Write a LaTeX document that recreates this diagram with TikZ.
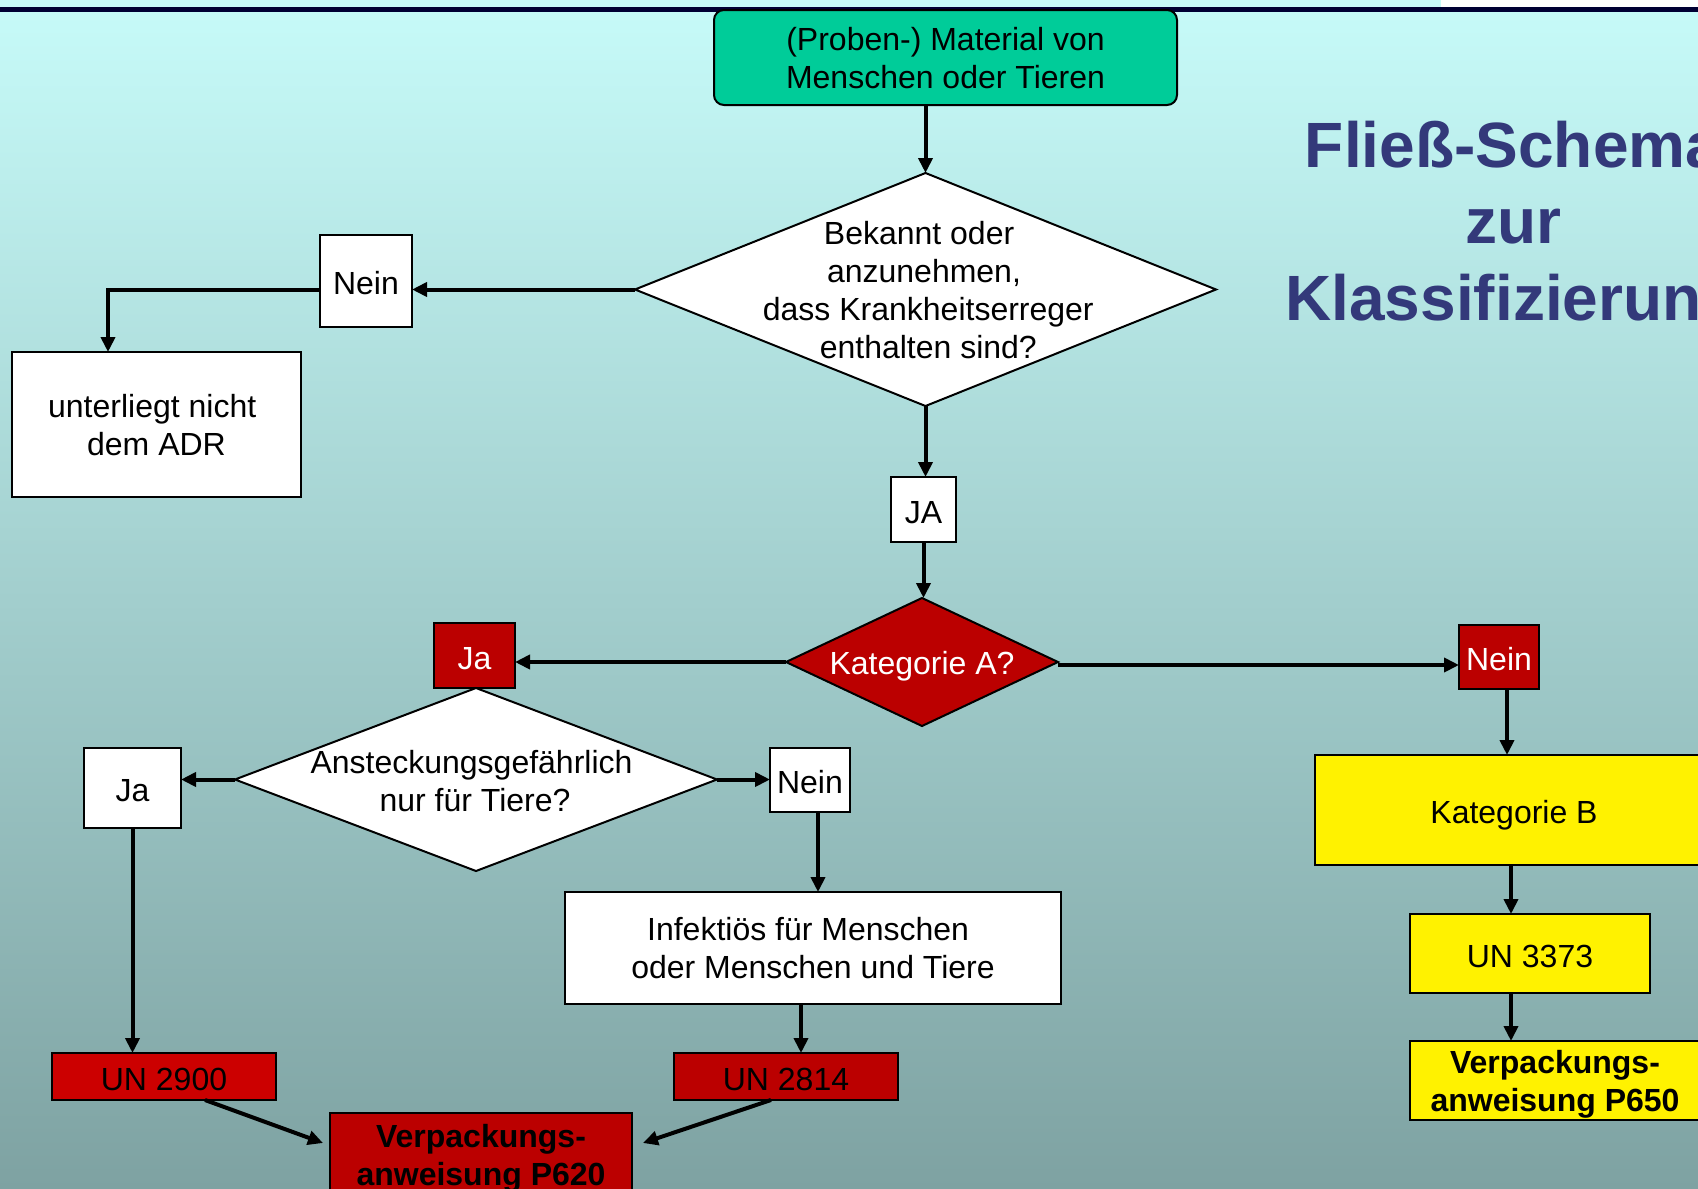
\documentclass[tikz,border=0pt]{standalone}
\usepackage{fontspec}
\setmainfont{Liberation Sans}
\usetikzlibrary{arrows.meta,calc,shapes.geometric}
\definecolor{bgtop}{RGB}{198,250,248}
\definecolor{bgbot}{RGB}{126,162,162}
\definecolor{navyband}{RGB}{0,0,51}
\definecolor{titleblue}{RGB}{51,57,122}
\definecolor{mint}{RGB}{0,204,153}
\definecolor{darkred}{RGB}{187,0,0}
\definecolor{brightred}{RGB}{204,0,0}
\begin{document}
\begin{tikzpicture}[x=0.5pt,y=-0.5pt,
  txt/.style={font=\fontsize{16pt}{19pt}\selectfont, align=center},
  btxt/.style={font=\fontsize{16pt}{19pt}\selectfont\bfseries, align=center},
  box/.style={draw=black, line width=1pt, inner sep=0pt, outer sep=0pt, txt, text depth=0pt},
  oneline/.style={text height=13.5pt},
  wbox/.style={box, fill=white},
  rbox/.style={box, fill=darkred, text=white},
  ybox/.style={box, fill=yellow},
  dia/.style={diamond, draw=black, line width=1pt, inner sep=0pt, outer sep=0pt},
  ttl/.style={font=\fontsize{32pt}{38pt}\selectfont\bfseries, text=titleblue, anchor=base, inner sep=0pt},
  arr/.style={line width=2pt, -{Triangle[length=7.5pt,width=7pt]}},
]
\useasboundingbox (0,0) rectangle (1698,1189);
\clip (0,0) rectangle (1698,1189);
% background
\fill[bgtop] (0,0) rectangle (1441,7);
\fill[white] (1441,0) rectangle (1698,7);
\fill[navyband] (0,7) rectangle (1698,12.5);
\shade[top color=bgtop, bottom color=bgbot] (0,12.5) rectangle (1698,1189);

% title
\node[ttl] (title1) at (1513,167) {Fließ-Schema};
\node[ttl] (title2) at (1513,243.5) {zur};
\node[ttl] (title3) at (1513,320) {Klassifizierung};

% nodes
\node[box, fill=mint, rounded corners=5pt, minimum width=231.5pt, minimum height=47.5pt] (green) at (945.5,57.5) {(Proben-) Material von\\Menschen oder Tieren};
\node[dia, fill=white, minimum width=290.5pt, minimum height=116.5pt] (d1) at (925.5,289.5) {};
\node[txt] (d1t) at (924,290.5) {Bekannt oder\hspace*{4.9pt}\\anzunehmen,\\\hspace*{4.3pt}dass Krankheitserreger\\\hspace*{4.3pt}enthalten sind?};
\node[wbox, oneline, minimum width=46pt, minimum height=46pt] (nein1) at (366,281) {Nein};
\node[wbox, minimum width=144.5pt, minimum height=72.5pt] (adr) at (156.5,424.5) {unterliegt nicht\hspace*{4.3pt}\\dem ADR};
\node[wbox, oneline, minimum width=32.5pt, minimum height=32.5pt] (ja1) at (923.5,509.5) {JA};
\node[dia, fill=darkred, minimum width=136pt, minimum height=64pt] (dA) at (922,662) {};
\node[txt, text=white] (dAt) at (922,666) {Kategorie A?};
\node[rbox, oneline, minimum width=40.5pt, minimum height=32.5pt] (jaR) at (474.5,655.5) {Ja};
\node[rbox, oneline, minimum width=40pt, minimum height=32pt] (neinR) at (1499,657) {Nein};
\node[dia, fill=white, minimum width=241pt, minimum height=91.5pt] (d3) at (476,779.5) {};
\node[txt] (d3t) at (475,781) {Ansteckungsgefährlich\hspace*{3.5pt}\\nur für Tiere?};
\node[wbox, oneline, minimum width=48.5pt, minimum height=40pt] (jaW) at (132.5,788) {Ja};
\node[wbox, oneline, minimum width=40pt, minimum height=32pt] (neinW) at (810,780) {Nein};
\node[wbox, text depth=-2pt, minimum width=248pt, minimum height=56pt] (inf) at (813,948) {Infektiös für Menschen\hspace*{4.9pt}\\oder Menschen und Tiere};
\node[box, oneline, fill=brightred, minimum width=112pt, minimum height=23.5pt] (un2900) at (164,1076.5) {UN 2900};
\node[box, oneline, fill=darkred, minimum width=112pt, minimum height=23.5pt] (un2814) at (786,1076.5) {UN 2814};
\node[box, btxt, fill=darkred, minimum width=151pt, minimum height=41.5pt] (p620) at (481,1154.5) {Verpackungs-\\anweisung P620};
\node[ybox, oneline, minimum width=199pt, minimum height=55pt] (kb) at (1514,810) {Kategorie B};
\node[ybox, oneline, minimum width=120pt, minimum height=39.5pt] (un3373) at (1530,953.5) {UN 3373};
\node[ybox, btxt, minimum width=145pt, minimum height=39.5pt] (p650) at (1555,1080.5) {Verpackungs-\\anweisung P650};

% connectors
\draw[arr] (green.south -| d1.north) -- (d1.north);
\draw[arr] (d1.west) -- (d1.west -| nein1.east);
\draw[arr] (nein1.west |- d1.west) -| ($(adr.north)+(-48.5,0)$);
\draw[arr] (d1.south) -- (d1.south |- ja1.north);
\draw[arr] (ja1.south) -- (ja1.south |- dA.north);
\draw[arr] (dA.west) -- (dA.west -| jaR.east);
\draw[arr] ($(dA.east)+(0,3)$) -- ($(dA.east -| neinR.west)+(0,3)$);
\draw[arr] ($(neinR.south)+(8,0)$) -- ($(neinR.south |- kb.north)+(8,0)$);
\draw[arr] ($(kb.south)+(-3,0)$) -- ($(kb.south |- un3373.north)+(-3,0)$);
\draw[arr] ($(kb.south |- un3373.south)+(-3,0)$) -- ($(kb.south |- p650.north)+(-3,0)$);
\draw[arr] (d3.west) -- (d3.west -| jaW.east);
\draw[arr] (d3.east) -- (d3.east -| neinW.west);
\draw[arr] (jaW.south) -- (jaW.south |- un2900.north);
\draw[arr] ($(neinW.south)+(8,0)$) -- ($(neinW.south |- inf.north)+(8,0)$);
\draw[arr] ($(un2814.north |- inf.south)+(15,0)$) -- ($(un2814.north)+(15,0)$);
\draw[arr] ($(un2900.south)+(41,0)$) -- ($(p620.north west)+(-7,30)$);
\draw[arr] ($(un2814.south)+(-15,0)$) -- ($(p620.north east)+(11,30)$);
\end{tikzpicture}
\end{document}
